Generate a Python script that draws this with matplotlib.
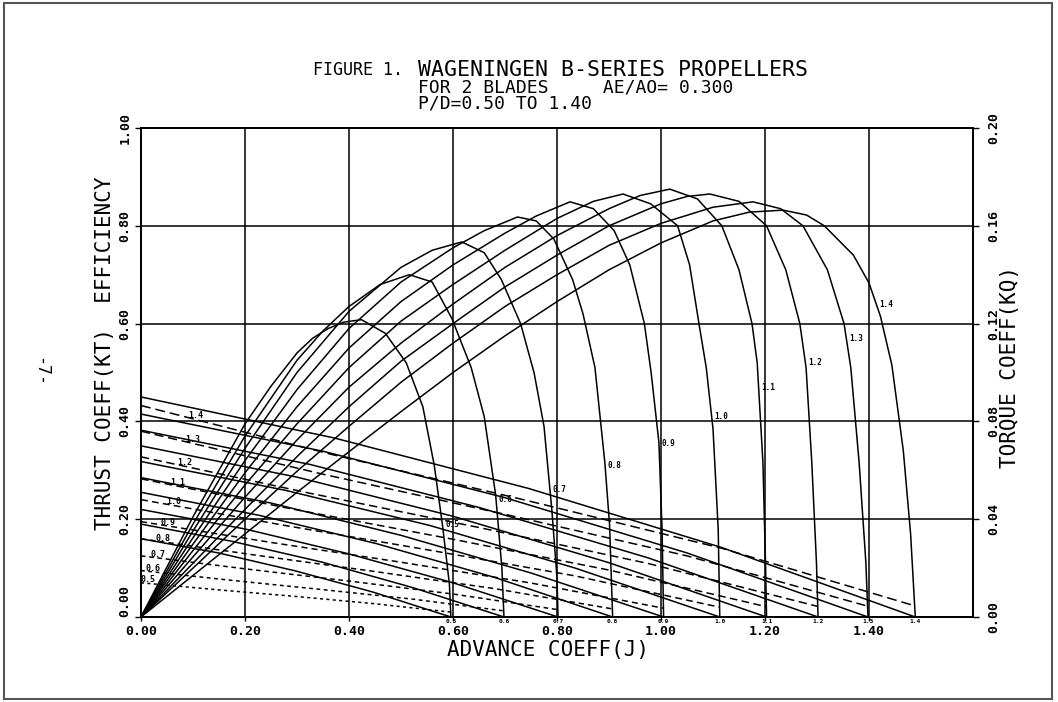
import numpy as np
import matplotlib.pyplot as plt
from matplotlib.patches import Rectangle

plt.rcParams['font.family'] = ['DejaVu Sans Mono']

# pitch ratios P/D, one curve family each
pitch_labels = ['0.5', '0.6', '0.7', '0.8', '0.9', '1.0', '1.1', '1.2', '1.3', '1.4']
pitch_ratio = [0.5, 0.6, 0.7, 0.8, 0.9, 1.0, 1.1, 1.2, 1.3, 1.4]

# advance coefficient where thrust falls to zero
j_zero = [0.596, 0.698, 0.802, 0.907, 1.005, 1.113, 1.203, 1.302, 1.398, 1.489]

# thrust coeff KT and torque coeff KQ, read at these J
kt_j = [
    [0, 0.149, 0.298, 0.446, 0.596],
    [0, 0.174, 0.349, 0.523, 0.698],
    [0, 0.200, 0.400, 0.600, 0.802],
    [0, 0.227, 0.453, 0.680, 0.907],
    [0, 0.250, 0.500, 0.750, 1.005],
    [0, 0.278, 0.556, 0.835, 1.113],
    [0, 0.300, 0.600, 0.900, 1.203],
    [0, 0.325, 0.650, 0.975, 1.302],
    [0, 0.350, 0.700, 1.050, 1.398],
    [0, 0.372, 0.745, 1.117, 1.489],
]
kt_vals = [
    [0.160, 0.131, 0.094, 0.051, 0],
    [0.190, 0.155, 0.112, 0.060, 0],
    [0.220, 0.180, 0.129, 0.070, 0],
    [0.255, 0.208, 0.150, 0.081, 0],
    [0.285, 0.233, 0.167, 0.090, 0],
    [0.318, 0.259, 0.187, 0.100, 0],
    [0.350, 0.286, 0.206, 0.111, 0],
    [0.382, 0.312, 0.224, 0.121, 0],
    [0.415, 0.339, 0.244, 0.131, 0],
    [0.450, 0.366, 0.263, 0.142, 0],
]
kq_vals = [
    [0.0140, 0.0111, 0.0084, 0.0055, 0.0020],
    [0.0190, 0.0150, 0.0112, 0.0073, 0.0025],
    [0.0250, 0.0197, 0.0147, 0.0094, 0.0030],
    [0.0320, 0.0251, 0.0185, 0.0116, 0.0033],
    [0.0390, 0.0305, 0.0224, 0.0139, 0.0036],
    [0.0480, 0.0374, 0.0273, 0.0168, 0.0040],
    [0.0565, 0.0438, 0.0318, 0.0192, 0.0042],
    [0.0655, 0.0506, 0.0366, 0.0219, 0.0043],
    [0.0760, 0.0584, 0.0420, 0.0250, 0.0044],
    [0.0865, 0.0662, 0.0475, 0.0281, 0.0045],
]

# open water efficiency
eta_j = [
    [0, 0.1, 0.2, 0.25, 0.3, 0.33, 0.36, 0.39, 0.424, 0.47, 0.51, 0.542, 0.564, 0.58, 0.593, 0.596],
    [0, 0.1, 0.2, 0.3, 0.35, 0.4, 0.46, 0.516, 0.56, 0.598, 0.635, 0.66, 0.682, 0.694, 0.698],
    [0, 0.1, 0.2, 0.3, 0.4, 0.5, 0.56, 0.617, 0.66, 0.693, 0.73, 0.756, 0.775, 0.79, 0.80, 0.802],
    [0, 0.1, 0.2, 0.3, 0.4, 0.5, 0.6, 0.66, 0.724, 0.76, 0.794, 0.83, 0.85, 0.873, 0.892, 0.901, 0.907],
    [0, 0.1, 0.2, 0.3, 0.4, 0.5, 0.6, 0.7, 0.76, 0.825, 0.87, 0.91, 0.94, 0.968, 0.981, 0.996, 1.002, 1.005],
    [0, 0.1, 0.2, 0.3, 0.4, 0.5, 0.6, 0.7, 0.8, 0.87, 0.927, 0.98, 1.032, 1.055, 1.073, 1.087, 1.1, 1.11, 1.113],
    [0, 0.1, 0.2, 0.3, 0.4, 0.5, 0.6, 0.7, 0.8, 0.9, 0.96, 1.017, 1.07, 1.117, 1.15, 1.175, 1.185, 1.196, 1.201, 1.203],
    [0, 0.1, 0.2, 0.3, 0.4, 0.5, 0.6, 0.7, 0.8, 0.9, 1.0, 1.05, 1.094, 1.15, 1.203, 1.24, 1.267, 1.279, 1.29, 1.299, 1.302],
    [0, 0.1, 0.2, 0.3, 0.4, 0.5, 0.6, 0.7, 0.8, 0.9, 1.0, 1.1, 1.177, 1.23, 1.273, 1.32, 1.352, 1.365, 1.381, 1.394, 1.398],
    [0, 0.1, 0.2, 0.3, 0.4, 0.5, 0.6, 0.7, 0.8, 0.9, 1.0, 1.1, 1.17, 1.235, 1.28, 1.314, 1.37, 1.4, 1.422, 1.444, 1.466, 1.48, 1.489],
]
eta_vals = [
    [0, 0.205, 0.395, 0.472, 0.54, 0.57, 0.59, 0.603, 0.608, 0.58, 0.52, 0.43, 0.31, 0.186, 0.068, 0],
    [0, 0.19, 0.37, 0.525, 0.585, 0.635, 0.68, 0.70, 0.685, 0.61, 0.51, 0.41, 0.25, 0.10, 0],
    [0, 0.176, 0.345, 0.50, 0.625, 0.715, 0.75, 0.767, 0.745, 0.69, 0.60, 0.499, 0.39, 0.22, 0.08, 0],
    [0, 0.162, 0.32, 0.465, 0.59, 0.685, 0.755, 0.79, 0.818, 0.81, 0.773, 0.69, 0.62, 0.51, 0.316, 0.19, 0],
    [0, 0.149, 0.295, 0.43, 0.55, 0.645, 0.72, 0.785, 0.82, 0.849, 0.835, 0.79, 0.72, 0.60, 0.50, 0.357, 0.18, 0],
    [0, 0.136, 0.27, 0.395, 0.51, 0.605, 0.68, 0.75, 0.815, 0.85, 0.865, 0.845, 0.80, 0.72, 0.60, 0.51, 0.385, 0.18, 0],
    [0, 0.123, 0.245, 0.362, 0.47, 0.56, 0.64, 0.715, 0.78, 0.835, 0.862, 0.875, 0.855, 0.80, 0.71, 0.60, 0.52, 0.316, 0.11, 0],
    [0, 0.11, 0.22, 0.328, 0.43, 0.523, 0.60, 0.675, 0.74, 0.80, 0.845, 0.86, 0.865, 0.85, 0.80, 0.71, 0.60, 0.51, 0.316, 0.11, 0],
    [0, 0.10, 0.20, 0.298, 0.39, 0.48, 0.56, 0.635, 0.70, 0.76, 0.805, 0.838, 0.849, 0.835, 0.80, 0.71, 0.60, 0.51, 0.316, 0.111, 0],
    [0, 0.085, 0.17, 0.255, 0.338, 0.42, 0.50, 0.575, 0.645, 0.71, 0.765, 0.81, 0.828, 0.832, 0.822, 0.80, 0.74, 0.683, 0.615, 0.515, 0.34, 0.17, 0],
]

# where the curve labels sit: J for KQ labels, efficiency level for eta labels
kq_label_j = [0.013, 0.023, 0.033, 0.042, 0.052, 0.063, 0.071, 0.085, 0.100, 0.106]
eta_label_level = [0.19, 0.24, 0.26, 0.31, 0.355, 0.41, 0.47, 0.52, 0.57, 0.64]

fig = plt.figure(figsize=(10.58, 7.02), dpi=100)
ax = fig.add_axes([141 / 1058, 1 - 617 / 702, 832 / 1058, 489 / 702])
ax2 = ax.twinx()

ax.set_xlim(0, 1.6)
ax.set_ylim(0, 1.0)
ax2.set_ylim(0, 0.2)

ax.set_xticks(np.arange(0, 1.41, 0.2))
ax.set_xticklabels(['%.2f' % v for v in np.arange(0, 1.41, 0.2)], fontsize=9.5, fontweight='bold')
ax.set_yticks(np.arange(0, 1.01, 0.2))
ax.set_yticklabels(['%.2f' % v for v in np.arange(0, 1.01, 0.2)], fontsize=9.5,
                   fontweight='bold', rotation=90, va='center')
ax.get_yticklabels()[0].set_va('bottom')
ax2.set_yticks(np.arange(0, 0.201, 0.04))
ax2.set_yticklabels(['%.2f' % v for v in np.arange(0, 0.201, 0.04)], fontsize=9.5,
                    fontweight='bold', rotation=90, va='center')
ax.tick_params(axis='x', length=3, width=1, pad=3)
ax.tick_params(axis='y', length=4, width=1, pad=3)
ax2.tick_params(length=4, width=1, pad=6)
for a in (ax, ax2):
    for s in a.spines.values():
        s.set_linewidth(1.3)

for g in np.arange(0.2, 1.41, 0.2):
    ax.axvline(g, color='black', lw=1.1, zorder=1)
for g in np.arange(0.2, 0.81, 0.2):
    ax.axhline(g, color='black', lw=1.1, zorder=1)

for i, lab in enumerate(pitch_labels):
    # thrust, solid
    ax.plot(kt_j[i], kt_vals[i], color='black', lw=1.1)
    # torque, dashed; dash length grows with pitch like the plotter did
    on = 2.0 + 4.5 * (pitch_ratio[i] - 0.5) / 0.9
    off = 2.2 + 1.0 * (pitch_ratio[i] - 0.5) / 0.9
    ax2.plot(kt_j[i], kq_vals[i], color='black', lw=1.1, linestyle=(0, (on, off)))
    # efficiency
    ax.plot(eta_j[i], eta_vals[i], color='black', lw=1.1)

    # labels
    ax.annotate(lab, (j_zero[i], 0), xytext=(0, -3), textcoords='offset points',
                ha='center', va='center', fontsize=4.5, fontweight='bold')
    kq_at = np.interp(kq_label_j[i], kt_j[i], kq_vals[i])
    ax2.text(kq_label_j[i], kq_at + 0.0015, lab, ha='center', va='center',
             fontsize=6, fontweight='bold')
    k = int(np.argmax(eta_vals[i]))
    j_at = np.interp(eta_label_level[i], eta_vals[i][k:][::-1], eta_j[i][k:][::-1])
    ax.annotate(lab, (j_at, eta_label_level[i]), xytext=(2, 0), textcoords='offset points',
                ha='left', va='center', fontsize=5.5, fontweight='bold')

fig.text(548 / 1058, 1 - 650 / 702, 'ADVANCE COEFF(J)', ha='center', va='center', fontsize=15)
fig.text(105 / 1058, 1 - 353 / 702, 'THRUST COEFF(KT)  EFFICIENCY', ha='center', va='center',
         fontsize=15, rotation=90)
fig.text(1010 / 1058, 1 - 367 / 702, 'TORQUE COEFF(KQ)', ha='center', va='center',
         fontsize=15, rotation=90)

fig.text(313 / 1058, 1 - 70 / 702, 'FIGURE 1.', ha='left', va='center', fontsize=12)
fig.text(418 / 1058, 1 - 70 / 702, 'WAGENINGEN B-SERIES PROPELLERS', ha='left', va='center', fontsize=15.5)
fig.text(418 / 1058, 1 - 88 / 702, 'FOR 2 BLADES     AE/AO= 0.300', ha='left', va='center', fontsize=13)
fig.text(418 / 1058, 1 - 104 / 702, 'P/D=0.50 TO 1.40', ha='left', va='center', fontsize=13)

fig.text(40 / 1058, 1 - 372 / 702, '-7-', ha='center', va='center', fontsize=12, rotation=270)

fig.patches.append(Rectangle((4 / 1058, 3 / 702), 1048 / 1058, 696 / 702, transform=fig.transFigure,
                             fill=False, edgecolor='#555555', lw=1.5))

fig.savefig('out.png', dpi=100)
